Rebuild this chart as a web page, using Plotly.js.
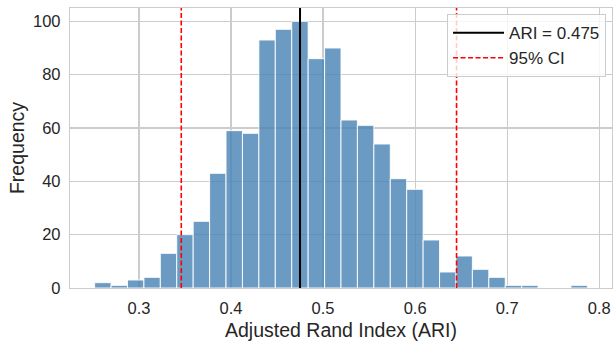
<!DOCTYPE html>
<html>
<head>
<meta charset="utf-8">
<script src="https://cdn.plot.ly/plotly-3.0.1.min.js"></script>
<style>html,body{margin:0;padding:0;background:#fff;}#chart{width:614px;height:341px;}</style>
</head>
<body>
<div id="chart"></div>
<script>
// Histogram of bootstrap ARI values (30 bins)
const binMin = 0.2519;
const binMax = 0.7871;
const counts = [2, 1, 3, 4, 13, 20, 25, 43, 59, 58, 93, 97, 100, 86, 90, 63, 61, 54, 41, 37, 18, 6, 12, 7, 4, 1, 1, 0, 0, 1];
const ariValue = 0.475;
const ciLow = 0.346;
const ciHigh = 0.645;
const xTicks = [0.3, 0.4, 0.5, 0.6, 0.7, 0.8];
const yTicks = [0, 20, 40, 60, 80, 100];

const nBins = counts.length;
const binW = (binMax - binMin) / nBins;
const centers = counts.map((_, i) => binMin + binW * (i + 0.5));
const yMax = Math.max(...counts) * 1.05;
const xPad = (binMax - binMin) * 0.05;

const font = "'Liberation Sans', Arial, sans-serif";
const txt = '#262626';

const traces = [
  {
    type: 'bar', x: centers, y: counts, width: binW,
    marker: {color: 'rgba(70,130,180,0.8)', line: {color: 'rgba(255,255,255,0.9)', width: 1}},
    showlegend: false, hoverinfo: 'x+y'
  },
  {
    type: 'scatter', mode: 'lines', x: [ariValue, ariValue], y: [0, yMax],
    line: {color: 'black', width: 2}, name: 'ARI = ' + ariValue.toFixed(3)
  },
  {
    type: 'scatter', mode: 'lines', x: [ciLow, ciLow, null, ciHigh, ciHigh], y: [0, yMax, null, 0, yMax],
    line: {color: 'red', width: 1.6, dash: '5px,2.5px'}, name: '95% CI'
  }
];

const layout = {
  width: 614, height: 341,
  margin: {l: 70, r: 2, t: 8, b: 53},
  paper_bgcolor: 'white', plot_bgcolor: 'white',
  font: {family: font, color: txt},
  bargap: 0,
  xaxis: {
    range: [binMin - xPad, binMax + xPad],
    tickvals: xTicks, ticktext: xTicks.map(v => v.toFixed(1)),
    showgrid: true, gridcolor: '#cccccc', gridwidth: 1.2,
    showline: true, linecolor: '#cccccc', linewidth: 1.2, mirror: true,
    zeroline: false,
    ticks: 'outside', ticklen: 5, tickcolor: 'rgba(0,0,0,0)',
    tickfont: {size: 16.5, color: txt, family: font},
    title: {text: 'Adjusted Rand Index (ARI)', font: {size: 19.5, color: txt, family: font}, standoff: 7}
  },
  yaxis: {
    range: [0, yMax],
    tickvals: yTicks,
    showgrid: true, gridcolor: '#cccccc', gridwidth: 1.2,
    showline: true, linecolor: '#cccccc', linewidth: 1.2, mirror: true,
    zeroline: false,
    ticks: 'outside', ticklen: 5, tickcolor: 'rgba(0,0,0,0)',
    tickfont: {size: 16.5, color: txt, family: font},
    title: {text: 'Frequency', font: {size: 19.5, color: txt, family: font}, standoff: 3}
  },
  legend: {
    x: 0.989, y: 0.978, xanchor: 'right', yanchor: 'top',
    bgcolor: 'rgba(255,255,255,0.8)', bordercolor: '#cccccc', borderwidth: 1,
    font: {size: 17, color: txt, family: font},
    itemwidth: 51
  },
  showlegend: true
};

Plotly.newPlot('chart', traces, layout, {displayModeBar: false, staticPlot: true});
</script>
</body>
</html>
